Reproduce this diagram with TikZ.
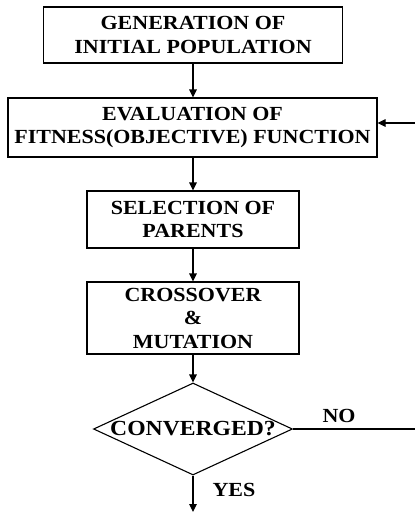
\documentclass[tikz,border=0pt]{standalone}
\usepackage{fontspec}
\setmainfont[FakeStretch=1.1]{Liberation Serif}
\usetikzlibrary{shapes.geometric,arrows.meta}
\begin{document}
\begin{tikzpicture}[x=1pt,y=-1pt,
  every node/.style={font=\fontsize{20}{23.5}\selectfont\bfseries},
  procbox/.style={draw=black, line width=1.1pt, rectangle, inner sep=0pt, align=center},
  decision/.style={draw=black, line width=1.1pt, diamond, aspect=2.16, inner sep=0pt},
  flow/.style={draw=black, line width=1.1pt, -{Triangle[length=8pt,width=7.5pt]}},
  plainline/.style={draw=black, line width=1.1pt},
  lbl/.style={inner sep=0pt}
]
\useasboundingbox (0,0) rectangle (415,512);
\node[procbox, minimum width=299pt, minimum height=56pt] (gen) at (193,35) {GENERATION OF\\INITIAL POPULATION};
\node[procbox, minimum width=369pt, minimum height=59pt] (eval) at (192.5,127.5) {EVALUATION OF\\FITNESS(OBJECTIVE) FUNCTION};
\node[procbox, minimum width=212pt, minimum height=57pt] (sel) at (193,219.5) {SELECTION OF\\PARENTS};
\node[procbox, minimum width=212pt, minimum height=72pt] (cross) at (193,318) {CROSSOVER\\\&\\MUTATION};
\node[decision, minimum width=199pt, minimum height=92pt, font=\fontsize{21.5}{24}\selectfont\bfseries] (conv) at (193,429) {CONVERGED?};
\coordinate (endpt) at (193,512);
\coordinate (noend) at (415,429);
\coordinate (fb) at (415,123);
\draw[flow] (gen.south) -- (eval.north -| gen.south);
\draw[flow] (eval.south -| sel.north) -- (sel.north);
\draw[flow] (sel) -- (cross);
\draw[flow] (cross) -- (conv);
\draw[flow] (conv.south) -- (endpt);
\draw[plainline] (conv.east) -- (conv.east -| noend);
\draw[flow] (fb) -- (fb -| eval.east);
\node[lbl] (no) at (339,416) {NO};
\node[lbl] (yes) at (234,490) {YES};
\end{tikzpicture}
\end{document}
